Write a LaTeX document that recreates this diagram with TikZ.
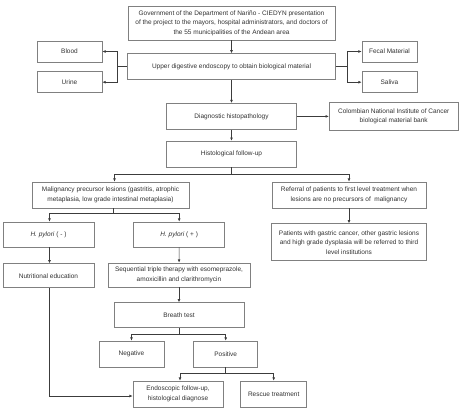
\documentclass[tikz,border=0pt]{standalone}
\usepackage{fontspec}
\setmainfont{Liberation Sans}
\usetikzlibrary{arrows.meta,positioning,calc}
\definecolor{FrameGray}{RGB}{128,128,128}
\definecolor{LinkGray}{RGB}{60,60,60}
\definecolor{InkGray}{RGB}{50,50,50}

\begin{document}
\begin{tikzpicture}[
  x=1pt, y=-1pt,
  node distance=9pt,
  box/.style={draw=FrameGray, line width=0.7pt, fill=white, align=center,
    inner sep=2pt, text=InkGray, font=\fontsize{6.5}{9.5}\selectfont},
  arrow/.style={-{Latex[length=3.2pt,width=2.8pt]}, line width=0.6pt, draw=LinkGray},
  link/.style={line width=0.6pt, draw=LinkGray}
]
\useasboundingbox (0,0) rectangle (462,410);

\node[box, minimum width=207pt, minimum height=34pt] (gov) at (231.5,23) {Government of the Department of Nariño - CIEDYN presentation\\of the project to the mayors, hospital administrators, and doctors of\\the 55 municipalities of the Andean area};
\node[box, minimum width=208pt, minimum height=26pt, below=13pt of gov] (endo) {Upper digestive endoscopy to obtain biological material};
\node[box, minimum width=65pt, minimum height=21pt] (blood) at (69.5,51.5) {Blood};
\node[box, minimum width=65pt, minimum height=21pt, below=of blood] (urine) {Urine};
\node[box, minimum width=55pt, minimum height=21pt] (fecal) at (389.5,51.5) {Fecal Material};
\node[box, minimum width=55pt, minimum height=21pt, below=of fecal] (saliva) {Saliva};
\node[box, minimum width=130pt, minimum height=26pt, below=23pt of endo] (histo) {Diagnostic histopathology};
\node[box, minimum width=129pt, minimum height=28pt, right=32pt of histo] (bank) {Colombian National Institute of Cancer\\biological material bank};
\node[box, minimum width=130pt, minimum height=26pt, below=11pt of histo] (follow) {Histological follow-up};

\node[box, minimum width=157pt, minimum height=26pt] (malig) at (110.5,195) {Malignancy precursor lesions (gastritis, atrophic\\metaplasia, low grade intestinal metaplasia)};
\node[box, minimum width=154pt, minimum height=26pt] (referral) at (349,195) {Referral of patients to first level treatment when\\lesions are no precursors of~ malignancy};
\node[box, minimum width=155pt, minimum height=37pt, below=15pt of referral] (patients) {Patients with gastric cancer, other gastric lesions\\and high grade dysplasia will be referred to third\\level institutions};
\node[box, minimum width=91pt, minimum height=25pt] (hneg) at (48.5,234.5) {\textit{H. pylori} ( - )};
\node[box, minimum width=91pt, minimum height=25pt, right=39pt of hneg] (hpos) {\textit{H. pylori} ( + )};
\node[box, minimum width=91pt, minimum height=24pt, below=16pt of hneg] (nutri) {Nutritional education};
\node[box, minimum width=142pt, minimum height=24pt] (seq) at (179,275) {Sequential triple therapy with esomeprazole,\\amoxicillin and clarithromycin};
\node[box, minimum width=130pt, minimum height=25pt, below=15pt of seq] (breath) {Breath test};
\node[box, minimum width=65pt, minimum height=26pt] (neg) at (131.5,354) {Negative};
\node[box, minimum width=64pt, minimum height=26pt, right=29pt of neg] (pos) {Positive};
\node[box, minimum width=90pt, minimum height=26pt] (endf) at (178,394) {Endoscopic follow-up,\\histological diagnose};
\node[box, minimum width=66pt, minimum height=26pt, right=17pt of endf] (rescue) {Rescue treatment};

% top part
\draw[arrow] (gov) -- (endo);
\draw[arrow] (endo.west) -- ++(-10,0) coordinate (lj) |- (blood);
\draw[arrow] (lj) |- (urine);
\draw[arrow] (endo.east) -- ++(11,0) coordinate (rj) |- (fecal);
\draw[arrow] (rj) |- (saliva);
\draw[arrow] (endo) -- (histo);
\draw[arrow] (histo.east) -- (histo.east -| bank.west);
\draw[arrow] (histo) -- (follow);

% branches
\draw[link] (follow.south) -- ++(0,7) coordinate (fj);
\draw[arrow] (fj) -| ([xshift=4pt]malig.north);
\draw[arrow] (fj) -| (referral.north);
\draw[link] ([xshift=3pt]malig.south) -- ++(0,5) coordinate (mj);
\draw[arrow] (mj) -| ([xshift=1pt]hneg.north);
\draw[arrow] (mj) -| (hpos.north);
\draw[arrow] (referral) -- (patients);
\draw[arrow] ([xshift=1pt]hneg.south) -- ([xshift=1pt]nutri.north);
\draw[arrow] (hpos) -- (seq);
\draw[arrow] (seq.south) -- (seq.south |- breath.north);
\draw[link] (breath.south) -- ++(0,6) coordinate (bj);
\draw[arrow] (bj) -| (neg.north);
\draw[arrow] (bj) -| (pos.north);
\draw[link] (pos.south) -- ++(0,6) coordinate (pj);
\draw[arrow] (pj) -| ([xshift=2pt]endf.north);
\draw[arrow] (pj) -| (rescue.north);
\draw[arrow] ([xshift=1pt]nutri.south) |- ([yshift=-2pt]endf.west);
\end{tikzpicture}
\end{document}
